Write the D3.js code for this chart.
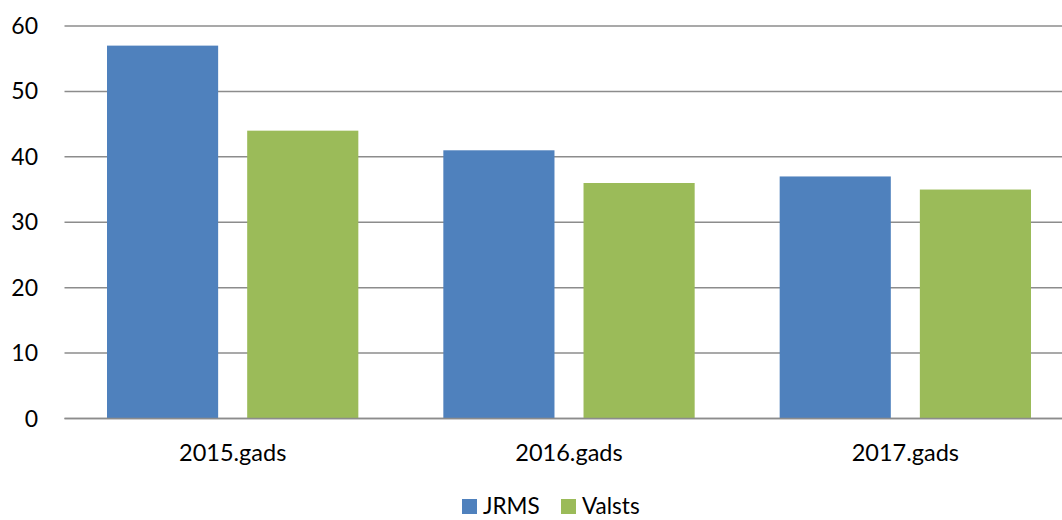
<!DOCTYPE html>
<html>
<head>
<meta charset="utf-8">
<script src="https://cdn.jsdelivr.net/npm/d3@7/dist/d3.min.js"></script>
<style>
  body { margin: 0; background: #fff; }
  svg text { font-family: Lato, "Open Sans", sans-serif; fill: #000; }
</style>
</head>
<body>
<div id="chart"></div>
<script>
const years = ["2015.gads", "2016.gads", "2017.gads"];
const seriesNames = ["JRMS", "Valsts"];
const jrms = [57, 41, 37];
const valsts = [44, 36, 35];
const yTicks = [0, 10, 20, 30, 40, 50, 60];
const colors = ["#4F81BD", "#9BBB59"];

const W = 1062, H = 520;
const plot = {left: 64.5, right: 1073.5, top: 26, bottom: 418.5};

const svg = d3.select("#chart").append("svg")
  .attr("width", W)
  .attr("height", H);

const x0 = d3.scaleBand()
  .domain(years)
  .range([plot.left, plot.right])
  .paddingInner(0)
  .paddingOuter(0);

const groupPad = 42.5;
const x1 = d3.scaleBand()
  .domain(seriesNames)
  .range([groupPad, x0.bandwidth() - groupPad])
  .paddingInner(29 / 140);

const y = d3.scaleLinear()
  .domain([0, 60])
  .range([plot.bottom, plot.top]);

// gridlines
svg.append("g")
  .selectAll("line")
  .data(yTicks)
  .enter()
  .append("line")
    .attr("x1", plot.left)
    .attr("x2", W)
    .attr("y1", d => y(d))
    .attr("y2", d => y(d))
    .attr("stroke", "#8c8c8c")
    .attr("stroke-width", 1.5);

// y labels
svg.append("g")
  .selectAll("text")
  .data(yTicks)
  .enter()
  .append("text")
    .attr("x", 38)
    .attr("y", d => y(d))
    .attr("dy", "0.35em")
    .attr("text-anchor", "end")
    .style("font-size", "23px")
    .text(d => d);

// bars
const rows = years.map((yr, i) => ({year: yr, values: [jrms[i], valsts[i]]}));

const groups = svg.append("g")
  .selectAll("g")
  .data(rows)
  .enter()
  .append("g")
    .attr("transform", d => `translate(${x0(d.year)},0)`);

groups.selectAll("rect")
  .data(d => d.values.map((v, i) => ({name: seriesNames[i], value: v, color: colors[i]})))
  .enter()
  .append("rect")
    .attr("x", d => x1(d.name))
    .attr("y", d => y(d.value))
    .attr("width", x1.bandwidth())
    .attr("height", d => y(0) - y(d.value))
    .attr("fill", d => d.color);

// baseline on top
svg.append("line")
  .attr("x1", plot.left)
  .attr("x2", W)
  .attr("y1", y(0))
  .attr("y2", y(0))
  .attr("stroke", "#8c8c8c")
  .attr("stroke-width", 1.5);

// x labels
svg.append("g")
  .selectAll("text")
  .data(years)
  .enter()
  .append("text")
    .attr("x", d => x0(d) + x0.bandwidth() / 2)
    .attr("y", 453)
    .attr("dy", "0.35em")
    .attr("text-anchor", "middle")
    .style("font-size", "23.5px")
    .text(d => d);

// legend
const legendX = [462, 561];
const legend = svg.append("g");
seriesNames.forEach((name, i) => {
  const row = legend.append("g")
    .attr("transform", `translate(${legendX[i]}, 499)`);
  row.append("rect")
    .attr("width", 15)
    .attr("height", 15)
    .attr("fill", colors[i]);
  row.append("text")
    .attr("x", 21)
    .attr("y", 7)
    .attr("dy", "0.35em")
    .style("font-size", "22.5px")
    .text(name);
});
</script>
</body>
</html>
